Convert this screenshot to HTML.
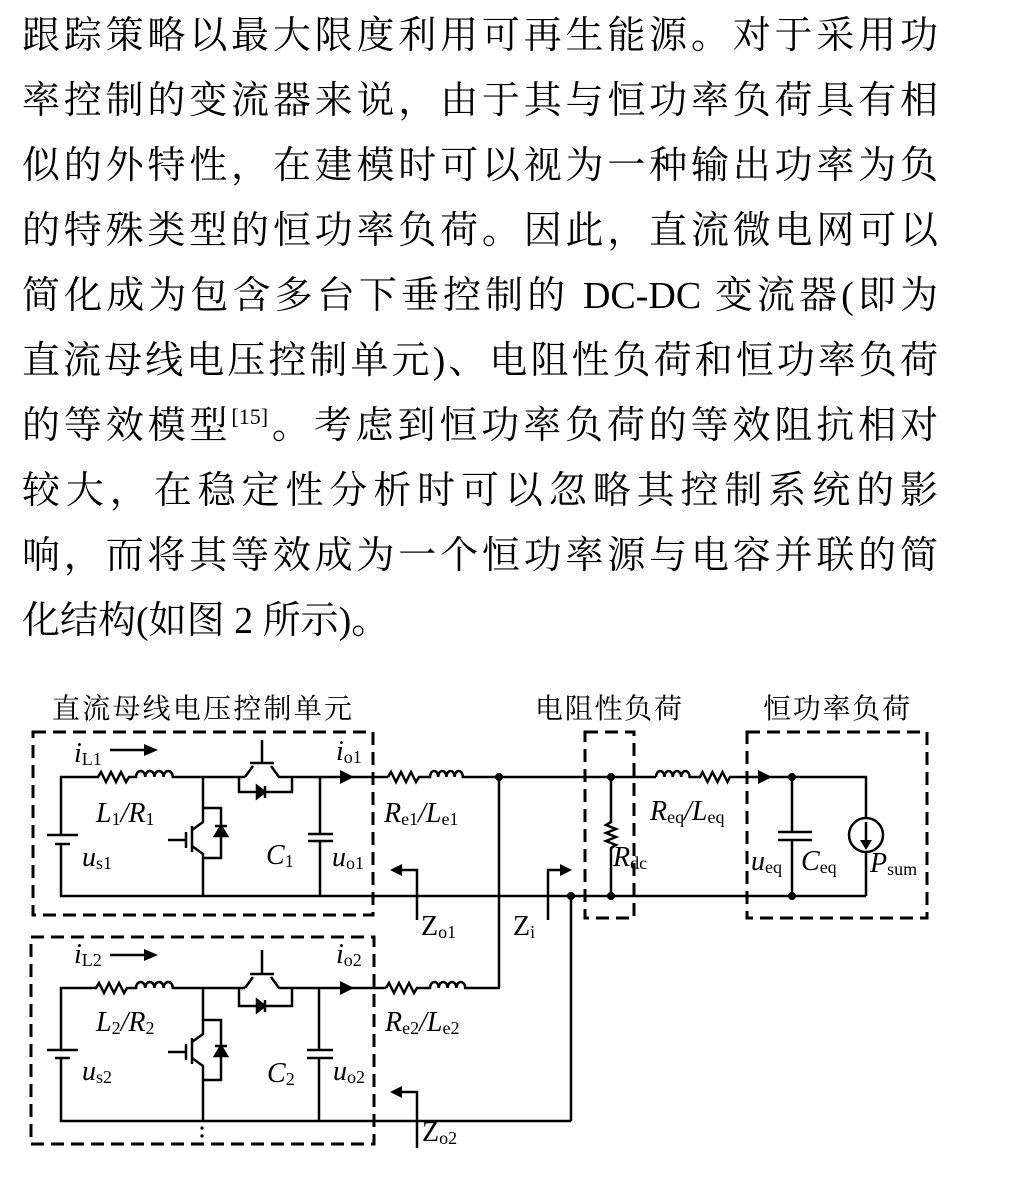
<!DOCTYPE html>
<html><head><meta charset="utf-8"><style>
html,body{margin:0;padding:0;background:#fff;}
body{width:1021px;height:1181px;position:relative;overflow:hidden;}
.l{position:absolute;left:22px;width:916px;font-family:"Liberation Serif","Noto Serif CJK SC",serif;font-size:38px;line-height:65px;white-space:nowrap;text-align:justify;text-align-last:justify;color:#000;}
.l.n{text-align:left;text-align-last:left;}
sup{font-size:22px;vertical-align:14px;line-height:0;}
svg{position:absolute;left:0;top:0;}
svg text{font-family:"Liberation Serif","Noto Serif CJK SC",serif;}
</style></head><body>
<div class="l" style="top:4px">跟踪策略以最大限度利用可再生能源。对于采用功</div>
<div class="l" style="top:69px">率控制的变流器来说，由于其与恒功率负荷具有相</div>
<div class="l" style="top:134px">似的外特性，在建模时可以视为一种输出功率为负</div>
<div class="l" style="top:199px">的特殊类型的恒功率负荷。因此，直流微电网可以</div>
<div class="l" style="top:264px">简化成为包含多台下垂控制的 DC-DC 变流器(即为</div>
<div class="l" style="top:329px">直流母线电压控制单元)、电阻性负荷和恒功率负荷</div>
<div class="l" style="top:394px">的等效模型<sup>[15]</sup>。考虑到恒功率负荷的等效阻抗相对</div>
<div class="l" style="top:459px">较大，在稳定性分析时可以忽略其控制系统的影</div>
<div class="l" style="top:524px">响，而将其等效成为一个恒功率源与电容并联的简</div>
<div class="l n" style="top:589px">化结构(如图 2 所示)。</div>

<svg width="1021" height="1181" viewBox="0 0 1021 1181">
<g font-size="28" fill="#000">
<text x="52" y="718" textLength="300">直流母线电压控制单元</text>
<text x="535" y="718" textLength="147">电阻性负荷</text>
<text x="763" y="718" textLength="147">恒功率负荷</text>
</g>
<g fill="none" stroke="#000" stroke-width="3" stroke-dasharray="13,7">
<rect x="33" y="732" width="340" height="183"/>
<rect x="31" y="937" width="343" height="207"/>
<rect x="585" y="732" width="49" height="186"/>
<rect x="747" y="732" width="180" height="186"/>
</g>
<g fill="none" stroke="#000" stroke-width="2.5">
<path d="M61,835 V777 H98 l3,-5 l5,10 l5,-10 l5,10 l5,-10 l5,10 l3,-5 H136 a4.6,6 0 0 1 9.2,0 a4.6,6 0 0 1 9.2,0 a4.6,6 0 0 1 9.2,0 a4.6,6 0 0 1 9.2,0 H245"/>
<path d="M47,835 H78 M55,844 H70" />
<path d="M61,844 V896 H611 H866"/>
<path d="M245,777 L253,766 M250,763 H274 M262,763 V740 M271,766 L279,777 H388"/>
<path d="M239,777 V792 H292 V777"/>
<path d="M257,786 L265,792 L257,798 Z M265,786 V798" fill="#000"/>
<path d="M203,777 V822 L192,830 M192,826 V852 M192,846 L203,854 V896 M186,832 V848 M168,840 H186"/>
<path d="M203,808 H221 V858 H203"/>
<path d="M215,836 H227 L221,826 Z M215,826 H227" fill="#000"/>
<path d="M320,777 V834 M308,834 H333 M308,841 H333 M320,841 V896"/>
<path d="M388,777 l3,-5 l5,10 l5,-10 l5,10 l5,-10 l5,10 l3,-5 H430 a4.1,6 0 0 1 8.2,0 a4.1,6 0 0 1 8.2,0 a4.1,6 0 0 1 8.2,0 a4.1,6 0 0 1 8.2,0 H656"/>
<path d="M499,777 V988"/>
<path d="M571,896 V1121"/>
<path d="M417,920 V870 H400"/>
<path d="M548,920 V870 H562"/>
<path d="M611,777 V822 l-5,3 l10,4 l-10,4 l10,4 l-10,4 l10,4 l-5,3 V896"/>
<path d="M656,777 a4.2,6 0 0 1 8.4,0 a4.2,6 0 0 1 8.4,0 a4.2,6 0 0 1 8.4,0 a4.2,6 0 0 1 8.4,0 H700 l2.5,-5 l5,10 l5,-10 l5,10 l5,-10 l5,10 l2.5,-5 H866 V818 M866,852 V896"/>
<circle cx="866" cy="835" r="17"/>
<path d="M866,822 V846"/>
<path d="M792,777 V832 M778,832 H812 M778,840 H812 M792,840 V896"/>

<path d="M61,1050 V988 H96 l3,-5 l5,10 l5,-10 l5,10 l5,-10 l5,10 l3,-5 H136 a4.6,6 0 0 1 9.2,0 a4.6,6 0 0 1 9.2,0 a4.6,6 0 0 1 9.2,0 a4.6,6 0 0 1 9.2,0 H245"/>
<path d="M47,1050 H78 M55,1058 H70"/>
<path d="M61,1058 V1121 H571"/>
<path d="M245,988 L253,977 M250,974 H274 M262,974 V950 M271,977 L279,988 H386"/>
<path d="M239,988 V1006 H292 V988"/>
<path d="M257,1000 L265,1006 L257,1012 Z M265,1000 V1012" fill="#000"/>
<path d="M203,988 V1034 L192,1042 M192,1038 V1064 M192,1058 L203,1066 V1121 M186,1044 V1060 M168,1052 H186"/>
<path d="M203,1020 H221 V1080 H203"/>
<path d="M215,1056 H227 L221,1046 Z M215,1046 H227" fill="#000"/>
<path d="M319,988 V1050 M307,1050 H333 M307,1058 H333 M319,1058 V1121"/>
<path d="M386,988 l3,-5 l5,10 l5,-10 l5,10 l5,-10 l5,10 l3,-5 H430 a4.4,6 0 0 1 8.8,0 a4.4,6 0 0 1 8.8,0 a4.4,6 0 0 1 8.8,0 a4.4,6 0 0 1 8.8,0 H500"/>
<path d="M417,1148 V1092 H400"/>
<path d="M110,750 H146 M110,955 H146"/>
</g>
<g fill="#000">
<path d="M144,744 L158,750 L144,756 Z M144,949 L158,955 L144,961 Z"/>
<path d="M340,770 L354,777 L340,784 Z M340,981 L354,988 L340,995 Z M758,770 L772,777 L758,784 Z"/>
<path d="M390,870 L402,864 L402,876 Z M390,1092 L402,1086 L402,1098 Z M572,870 L560,864 L560,876 Z"/>
<path d="M860,840 L866,850 L872,840 Z"/>
<circle cx="499" cy="777" r="4"/><circle cx="611" cy="777" r="4"/><circle cx="611" cy="896" r="4"/>
<circle cx="571" cy="896" r="4"/><circle cx="792" cy="777" r="4"/><circle cx="792" cy="896" r="4"/>
<circle cx="202" cy="1128" r="1.6"/><circle cx="202" cy="1136" r="1.6"/><circle cx="202" cy="1144" r="1.6"/>
</g>
<g font-size="28" fill="#000" font-style="italic">
<text x="74" y="762">i<tspan font-size="18" font-style="normal" dy="3">L1</tspan></text>
<text x="96" y="822">L<tspan font-size="18" font-style="normal" dy="3">1</tspan><tspan dy="-3">/R</tspan><tspan font-size="18" font-style="normal" dy="3">1</tspan></text>
<text x="82" y="866">u<tspan font-size="18" font-style="normal" dy="3">s1</tspan></text>
<text x="266" y="864">C<tspan font-size="18" font-style="normal" dy="3">1</tspan></text>
<text x="332" y="866">u<tspan font-size="18" font-style="normal" dy="3">o1</tspan></text>
<text x="336" y="760">i<tspan font-size="18" font-style="normal" dy="3">o1</tspan></text>
<text x="384" y="822">R<tspan font-size="18" font-style="normal" dy="3">e1</tspan><tspan dy="-3">/L</tspan><tspan font-size="18" font-style="normal" dy="3">e1</tspan></text>
<text x="650" y="820">R<tspan font-size="18" font-style="normal" dy="3">eq</tspan><tspan dy="-3">/L</tspan><tspan font-size="18" font-style="normal" dy="3">eq</tspan></text>
<text x="613" y="866">R<tspan font-size="18" font-style="normal" dy="3">dc</tspan></text>
<text x="751" y="870">u<tspan font-size="18" font-style="normal" dy="3">eq</tspan></text>
<text x="801" y="870">C<tspan font-size="18" font-style="normal" dy="3">eq</tspan></text>
<text x="870" y="872">P<tspan font-size="18" font-style="normal" dy="3">sum</tspan></text>
<text x="74" y="963">i<tspan font-size="18" font-style="normal" dy="3">L2</tspan></text>
<text x="96" y="1031">L<tspan font-size="18" font-style="normal" dy="3">2</tspan><tspan dy="-3">/R</tspan><tspan font-size="18" font-style="normal" dy="3">2</tspan></text>
<text x="82" y="1080">u<tspan font-size="18" font-style="normal" dy="3">s2</tspan></text>
<text x="267" y="1082">C<tspan font-size="18" font-style="normal" dy="3">2</tspan></text>
<text x="333" y="1080">u<tspan font-size="18" font-style="normal" dy="3">o2</tspan></text>
<text x="336" y="963">i<tspan font-size="18" font-style="normal" dy="3">o2</tspan></text>
<text x="385" y="1031">R<tspan font-size="18" font-style="normal" dy="3">e2</tspan><tspan dy="-3">/L</tspan><tspan font-size="18" font-style="normal" dy="3">e2</tspan></text>
</g>
<g font-size="28" fill="#000">
<text x="421" y="935">Z<tspan font-size="18" dy="3">o1</tspan></text>
<text x="513" y="935">Z<tspan font-size="18" dy="3">i</tspan></text>
<text x="422" y="1141">Z<tspan font-size="18" dy="3">o2</tspan></text>
</g>
</svg>
</body></html>
